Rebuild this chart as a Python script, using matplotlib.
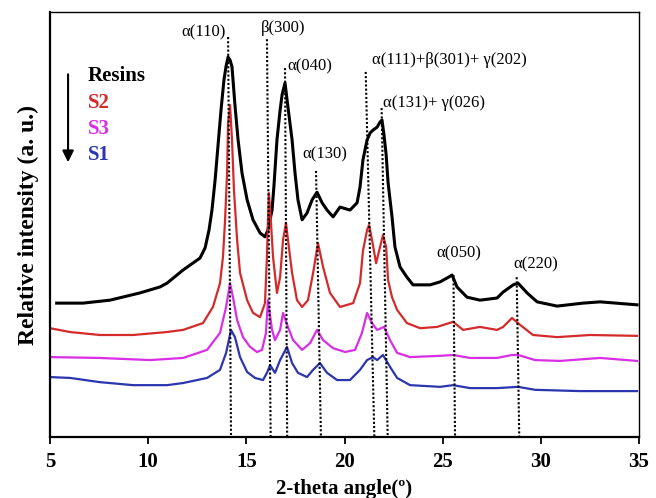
import matplotlib
matplotlib.use('Agg')
import matplotlib.pyplot as plt

# XRD 图谱数据，读自原图：2-theta (°) 与相对强度 (a.u.)
resins_x = [5.34, 6.68, 8.06, 9.58, 10.60, 10.96, 11.78, 12.64, 12.90, 13.10, 13.25, 13.41, 13.56,
            13.71, 13.86, 13.97, 14.07, 14.17, 14.27, 14.42, 14.58, 14.78, 15.04, 15.34, 15.70,
            15.95, 16.10, 16.31, 16.41, 16.56, 16.72, 16.82, 16.97, 17.12, 17.33, 17.48, 17.63,
            17.84, 18.09, 18.35, 18.60, 18.86, 19.11, 19.42, 19.77, 20.28, 20.64, 20.79, 20.94,
            21.15, 21.30, 21.45, 21.66, 21.81, 21.91, 22.01, 22.12, 22.22, 22.42, 22.57, 22.83,
            23.18, 23.49, 24.36, 24.87, 25.22, 25.48, 25.73, 26.24, 26.90, 27.77, 28.08, 28.59,
            28.84, 29.30, 29.81, 30.83, 32.15, 33.02, 34.90]
resins_y = [31.5, 31.5, 32.2, 33.9, 35.3, 36.2, 39.3, 42.1, 44.5, 48.7, 53.4, 60.5, 68.7,
            76.9, 84.0, 87.3, 89.4, 88.7, 87.1, 78.1, 69.9, 62.1, 55.8, 51.1, 48.0,
            47.1, 48.7, 53.4, 59.3, 69.9, 76.9, 80.5, 83.3, 77.6, 69.9, 62.1, 55.8,
            51.1, 52.7, 55.8, 57.6, 55.1, 53.4, 51.8, 54.1, 53.4, 55.1, 58.8, 65.2,
            69.9, 71.5, 72.2, 72.9, 74.1, 74.6, 71.1, 66.5, 59.8, 51.8, 44.7, 40.0,
            37.6, 35.8, 35.8, 36.5, 37.4, 38.1, 35.3, 32.9, 32.2, 32.7, 34.1, 35.8,
            36.2, 33.9, 31.8, 30.8, 31.5, 31.8, 31.1]

s2_x = [5.00, 6.02, 7.55, 9.23, 10.96, 11.78, 12.79, 13.30, 13.66, 13.81, 13.91, 14.02, 14.07,
        14.17, 14.27, 14.37, 14.53, 14.68, 15.04, 15.34, 15.70, 15.95, 16.05, 16.10, 16.15,
        16.25, 16.36, 16.56, 16.72, 16.87, 17.02, 17.12, 17.33, 17.58, 17.84, 18.14, 18.40,
        18.65, 18.91, 19.26, 19.77, 20.44, 20.79, 20.94, 21.15, 21.25, 21.40, 21.61, 21.81,
        21.96, 22.12, 22.22, 22.42, 22.68, 23.18, 23.85, 24.71, 25.53, 26.04, 26.90, 27.77,
        28.08, 28.53, 28.94, 29.60, 30.83, 32.51, 34.90]
s2_y = [25.6, 24.7, 24.0, 24.0, 24.7, 25.2, 26.8, 30.6, 36.2, 42.4, 50.4, 62.1, 73.9,
        78.1, 69.9, 58.1, 46.4, 38.6, 32.2, 29.2, 28.2, 31.5, 42.4, 50.8, 57.4,
        50.8, 42.4, 33.9, 37.6, 46.4, 50.4, 46.4, 38.6, 32.2, 30.6, 32.2, 38.6,
        45.6, 40.0, 33.9, 30.6, 31.5, 36.2, 43.8, 48.7, 49.9, 46.4, 40.9, 44.7,
        47.5, 44.7, 36.9, 32.9, 29.9, 26.8, 25.6, 25.9, 27.1, 25.2, 25.9, 25.2,
        25.9, 28.0, 26.4, 24.0, 23.5, 24.0, 23.8]

s3_x = [5.00, 7.55, 10.09, 11.78, 13.00, 13.66, 13.97, 14.17, 14.32, 14.53, 14.83, 15.19, 15.54,
        15.80, 16.00, 16.10, 16.31, 16.46, 16.72, 16.87, 17.12, 17.38, 17.84, 18.25, 18.60,
        18.91, 19.42, 20.03, 20.54, 20.89, 21.15, 21.40, 21.66, 22.01, 22.32, 22.68, 23.34,
        24.87, 25.53, 26.40, 27.77, 28.53, 28.84, 29.71, 30.98, 33.02, 34.90]
s3_y = [18.8, 18.6, 18.1, 18.6, 20.5, 24.5, 30.6, 36.2, 32.9, 27.5, 23.5, 21.2, 20.0,
        20.5, 24.5, 32.2, 25.2, 22.8, 25.2, 29.2, 25.9, 22.8, 20.5, 22.1, 25.2,
        22.8, 20.9, 20.0, 20.5, 24.5, 29.2, 26.8, 25.2, 25.9, 22.8, 19.8, 18.8,
        19.1, 19.3, 18.6, 18.6, 19.3, 19.3, 18.1, 17.9, 18.6, 17.9]

s1_x = [5.00, 6.02, 7.55, 9.23, 10.96, 11.78, 13.00, 13.66, 13.97, 14.22, 14.42, 14.68, 15.04,
        15.44, 15.85, 16.05, 16.21, 16.46, 16.72, 17.07, 17.33, 17.63, 18.09, 18.40, 18.75,
        19.11, 19.62, 20.28, 20.79, 21.15, 21.45, 21.66, 21.96, 22.32, 22.68, 23.34, 24.87,
        25.53, 26.40, 27.77, 28.84, 29.71, 32.00, 34.90]
s1_y = [14.1, 13.9, 12.9, 12.2, 12.2, 12.7, 13.9, 15.8, 19.8, 25.2, 23.5, 18.8, 15.3,
        13.9, 13.4, 15.1, 16.9, 15.1, 18.1, 21.2, 17.4, 15.1, 14.1, 15.8, 17.4,
        15.1, 13.4, 13.4, 15.8, 18.1, 18.8, 18.1, 19.3, 16.5, 13.9, 12.2, 11.8,
        12.2, 11.5, 11.5, 11.8, 11.1, 10.8, 10.8]

# 衍射峰标注
peak_names = ['α(110)', 'β(300)', 'α(040)', 'α(130)', 'α(111)+β(301)+ γ(202)',
              'α(131)+ γ(026)', 'α(050)', 'α(220)']
peak_top_x = [14.07, 16.05, 16.97, 18.55, 21.08, 21.89, 25.55, 28.77]
peak_bottom_x = [14.22, 16.24, 17.08, 18.80, 21.52, 22.20, 25.63, 28.90]
peak_top_y = [94.1, 93.6, 86.8, 62.6, 85.9, 77.4, 38.1, 37.6]
name_x = [12.82, 16.87, 18.25, 19.0, 25.35, 24.56, 25.8, 29.73]
name_y = [95.3, 96.2, 87.3, 66.4, 88.7, 78.6, 43.3, 40.7]

samples = ['Resins', 'S2', 'S3', 'S1']
colors = ['#000000', '#d42a2a', '#d92ee6', '#2b35b0']

plt.rcParams['font.family'] = ['Liberation Serif', 'DejaVu Serif']
fig = plt.figure(figsize=(6.56, 4.98), dpi=100)
ax = fig.add_axes([50 / 656, 61 / 498, 589 / 656, 425 / 498])

curves = [(resins_x, resins_y), (s2_x, s2_y), (s3_x, s3_y), (s1_x, s1_y)]
for (cx, cy), c in zip(curves, colors):
    ax.plot(cx, cy, color=c, lw=2.2 if c == '#000000' else 1.6, zorder=2)

for i in range(len(peak_names)):
    ax.plot([peak_top_x[i], peak_bottom_x[i]], [peak_top_y[i], 0], color='black',
            ls=(0, (1, 1)), lw=1.5, zorder=3)
    ax.text(name_x[i], name_y[i], peak_names[i], ha='center', va='center', fontsize=12)

# 图例文字和箭头
for i, (s, c) in enumerate(zip(samples, colors)):
    ax.text(6.94, 84.9 - i * 6.2, s, color=c, fontsize=15, fontweight='bold', va='center')
ax.annotate('', xy=(5.92, 64.0), xytext=(5.92, 86.0),
            arrowprops=dict(arrowstyle='-|>', color='black', lw=1.5, mutation_scale=17))

ax.set_xlim(5, 35)
ax.set_ylim(0, 100)
ax.set_xticks([5, 10, 15, 20, 25, 30, 35])
ax.set_yticks([])
ax.tick_params(axis='x', direction='out', length=5, width=1.3, labelsize=15, pad=6)
for lab in ax.get_xticklabels():
    lab.set_fontweight('bold')
for side in ['left', 'bottom']:
    ax.spines[side].set_linewidth(1.6)
for side in ['top', 'right']:
    ax.spines[side].set_linewidth(1.0)
ax.set_xlabel('2-theta angle(º)', fontsize=15, fontweight='bold', labelpad=5)
ax.set_ylabel('Relative intensity (a. u.)', fontsize=17, fontweight='bold', labelpad=8)

plt.savefig('out.png', dpi=100)
